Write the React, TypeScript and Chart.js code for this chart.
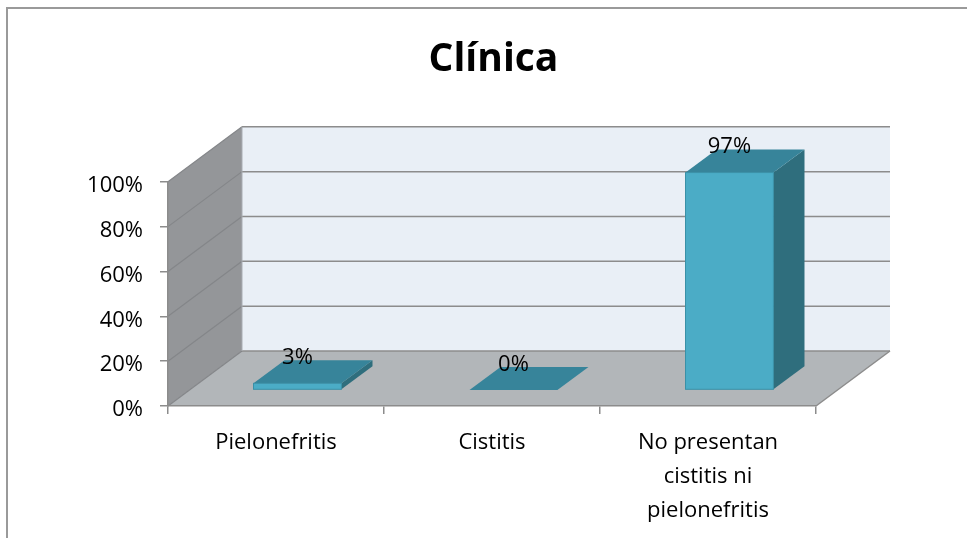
import React, { useEffect, useRef } from 'react';
import { Chart, registerables } from 'chart.js';

Chart.register(...registerables);

const chartTitle = 'Clínica';
const categories: string[][] = [
  ['Pielonefritis'],
  ['Cistitis'],
  ['No presentan', 'cistitis ni', 'pielonefritis'],
];
const values: number[] = [3, 0, 97];
const yMin = 0;
const yMax = 100;
const yStep = 20;

const FONT = '"Open Sans", "Noto Sans", sans-serif';
const DX = 74; // depth offset x (style)
const DY = 55; // depth offset y (style)
const GAP_FRAC = 0.29;
const BAR_DEPTH_FRAC = 0.42;

function poly(ctx: CanvasRenderingContext2D, pts: number[][], fill: string) {
  ctx.beginPath();
  ctx.moveTo(pts[0][0], pts[0][1]);
  for (let i = 1; i < pts.length; i++) ctx.lineTo(pts[i][0], pts[i][1]);
  ctx.closePath();
  ctx.fillStyle = fill;
  ctx.fill();
}

function line(ctx: CanvasRenderingContext2D, x0: number, y0: number, x1: number, y1: number, color: string, w: number) {
  ctx.beginPath();
  ctx.moveTo(x0, y0);
  ctx.lineTo(x1, y1);
  ctx.strokeStyle = color;
  ctx.lineWidth = w;
  ctx.stroke();
}

const threeD = {
  id: 'threeD',
  beforeDraw(chart: any) {
    const { ctx, chartArea: a, scales } = chart;
    const ys = scales.y;
    const L = a.left, R = a.right, T = a.top, B = a.bottom;
    ctx.save();
    poly(ctx, [[L + DX, T - DY], [R + DX, T - DY], [R + DX, B - DY], [L + DX, B - DY]], '#E9EFF6');
    poly(ctx, [[L, T], [L + DX, T - DY], [L + DX, B - DY], [L, B]], '#949699');
    poly(ctx, [[L, B], [R, B], [R + DX, B - DY], [L + DX, B - DY]], '#B2B6B9');
    for (const t of ys.ticks) {
      const py = ys.getPixelForValue(t.value);
      line(ctx, L + DX, py - DY, R + DX, py - DY, '#8C8C8C', 1.5);
      line(ctx, L, py, L + DX, py - DY, '#848689', 1.2);
    }
    line(ctx, L + DX, T - DY, L + DX, B - DY, '#A9ADB2', 1);
    line(ctx, R, B, R + DX, B - DY, '#8C8C8C', 1.5);
    ctx.restore();
  },
  beforeDatasetDraw() {
    return false;
  },
  afterDatasetsDraw(chart: any) {
    const { ctx } = chart;
    const meta = chart.getDatasetMeta(0);
    const bx = BAR_DEPTH_FRAC * DX;
    const by = BAR_DEPTH_FRAC * DY;
    ctx.save();
    meta.data.forEach((el: any, i: number) => {
      const p = el.getProps(['x', 'y', 'base', 'width'], true);
      const x0 = p.x - p.width / 2 + GAP_FRAC * DX;
      const x1 = x0 + p.width;
      const yT = p.y - GAP_FRAC * DY;
      const yB = p.base - GAP_FRAC * DY;
      poly(ctx, [[x1, yT], [x1 + bx, yT - by], [x1 + bx, yB - by], [x1, yB]], '#2F6E7D');
      poly(ctx, [[x0, yT], [x1, yT], [x1 + bx, yT - by], [x0 + bx, yT - by]], '#37849A');
      if (yB - yT > 0.5) {
        ctx.fillStyle = '#4BACC6';
        ctx.fillRect(x0, yT, x1 - x0, yB - yT);
        ctx.strokeStyle = '#3A90A7';
        ctx.lineWidth = 1;
        ctx.strokeRect(x0, yT, x1 - x0, yB - yT);
      }
      ctx.fillStyle = '#000000';
      ctx.font = `22px ${FONT}`;
      ctx.textAlign = 'center';
      ctx.textBaseline = 'middle';
      ctx.fillText(`${values[i]}%`, (x0 + x1) / 2, yT - by - 2.5);
    });
    ctx.restore();
  },
};

export default function App() {
  const ref = useRef<HTMLCanvasElement | null>(null);
  useEffect(() => {
    if (!ref.current) return;
    const chart = new Chart(ref.current, {
      type: 'bar',
      data: {
        labels: categories,
        datasets: [
          {
            data: values,
            backgroundColor: '#4BACC6',
            categoryPercentage: 1,
            barPercentage: 0.407,
          },
        ],
      },
      options: {
        animation: false,
        responsive: true,
        maintainAspectRatio: false,
        layout: { padding: { left: 20, right: 0, top: 0, bottom: 0 } },
        plugins: {
          legend: { display: false },
          tooltip: { enabled: false },
          title: {
            display: true,
            text: chartTitle,
            color: '#000000',
            font: { family: FONT, size: 39, weight: 'bold', lineHeight: 1.2 },
            padding: { top: 36, bottom: 99 },
          },
        },
        scales: {
          x: {
            afterFit: (s: any) => {
              s.height = 132;
            },
            grid: {
              drawOnChartArea: false,
              drawTicks: true,
              tickLength: 8,
              color: '#8C8C8C',
              lineWidth: 1.5,
              offset: true,
            },
            border: { display: true, color: '#8C8C8C', width: 1.5 },
            ticks: {
              color: '#000000',
              font: { family: FONT, size: 22, lineHeight: 1.545 },
              padding: 12,
              maxRotation: 0,
              autoSkip: false,
            },
          },
          y: {
            min: yMin,
            max: yMax,
            afterFit: (s: any) => {
              s.width = 148;
            },
            grid: {
              drawOnChartArea: false,
              drawTicks: true,
              tickLength: 8,
              color: '#8C8C8C',
              lineWidth: 1.5,
            },
            border: { display: true, color: '#8C8C8C', width: 1.5 },
            ticks: {
              stepSize: yStep,
              color: '#000000',
              font: { family: FONT, size: 22 },
              padding: 17,
              labelOffset: 4,
              callback: (v: any) => `${v}%`,
            },
          },
          yRight: {
            position: 'right',
            min: yMin,
            max: yMax,
            afterFit: (s: any) => {
              s.width = 151;
            },
            grid: { display: false, drawOnChartArea: false, drawTicks: false },
            border: { display: false },
            ticks: { display: false },
          },
        },
      },
      plugins: [threeD],
    } as any);
    return () => chart.destroy();
  }, []);

  return (
    <div style={{ position: 'absolute', left: 0, top: 0, width: 967, height: 538, overflow: 'hidden', background: '#ffffff' }}>
      <div
        style={{
          position: 'absolute',
          left: 6,
          top: 7,
          width: 1200,
          height: 800,
          border: '2px solid #9A9A9A',
          boxSizing: 'border-box',
        }}
      />
      <div style={{ position: 'absolute', left: 0, top: 0, width: 967, height: 538 }}>
        <canvas ref={ref} />
      </div>
    </div>
  );
}
